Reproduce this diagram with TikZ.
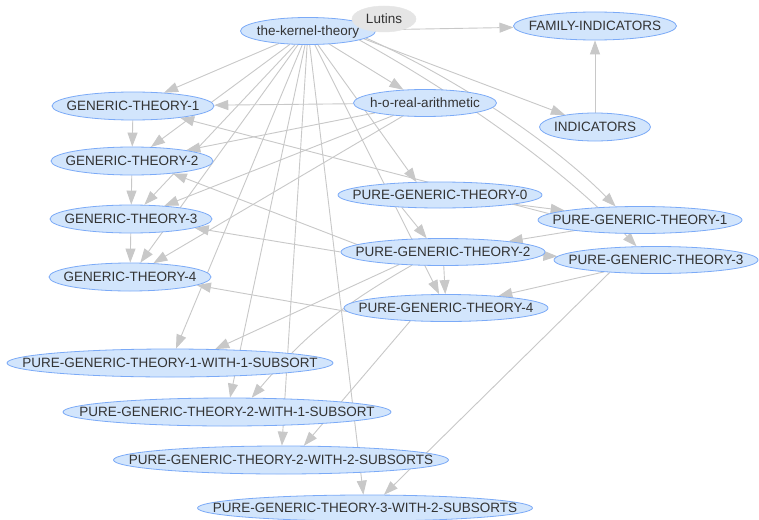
\documentclass[tikz,border=0pt]{standalone}
\usepackage{fontspec}
\setmainfont{Liberation Sans}
\usetikzlibrary{shapes.geometric,arrows.meta}
\definecolor{ndfill}{HTML}{D2E5FC}
\definecolor{ndborder}{HTML}{7BAAF7}
\definecolor{edgegray}{HTML}{C8C8C8}
\definecolor{lutfill}{HTML}{E5E5E5}
\definecolor{txtgray}{HTML}{333333}
\pgfdeclarelayer{background}
\pgfsetlayers{background,main}
\tikzset{
  nd/.style={ellipse, draw=ndborder, fill=ndfill, line width=0.8pt, inner sep=0pt},
  lut/.style={ellipse, fill=lutfill, draw=lutfill, inner sep=0pt},
  edge/.style={draw=edgegray, line width=0.9pt, -{Triangle[length=14pt,width=10pt]}},
  every label/.style={text=txtgray, text height=9.7pt, text depth=0pt, inner sep=0pt}
}
\begin{document}
\begin{tikzpicture}[x=1pt,y=-1pt,font=\fontsize{13.5pt}{16pt}\selectfont]
\useasboundingbox (0,0) rectangle (759,519);
% nodes
\node[nd, minimum width=135pt, minimum height=27pt, label=center:{the-kernel-theory}] (kernel) at (308,31) {};
\node[lut, minimum width=64pt, minimum height=26pt, label=center:{Lutins}] (lutins) at (384,19) {};
\node[nd, minimum width=163pt, minimum height=28pt, label=center:{FAMILY-INDICATORS}] (fam) at (595,26) {};
\node[nd, minimum width=143pt, minimum height=27pt, label=center:{h-o-real-arithmetic}] (ho) at (425,103) {};
\node[nd, minimum width=111pt, minimum height=28pt, label=center:{INDICATORS}] (ind) at (595,127) {};
\node[nd, minimum width=162pt, minimum height=28pt, label=center:{GENERIC-THEORY-1}] (gt1) at (133,106) {};
\node[nd, minimum width=162pt, minimum height=28pt, label=center:{GENERIC-THEORY-2}] (gt2) at (132,161) {};
\node[nd, minimum width=162pt, minimum height=28pt, label=center:{GENERIC-THEORY-3}] (gt3) at (131,219) {};
\node[nd, minimum width=162pt, minimum height=28pt, label=center:{GENERIC-THEORY-4}] (gt4) at (130,277) {};
\node[nd, minimum width=204pt, minimum height=26pt, label=center:{PURE-GENERIC-THEORY-0}] (pgt0) at (440,195) {};
\node[nd, minimum width=204pt, minimum height=27pt, label=center:{PURE-GENERIC-THEORY-1}] (pgt1) at (640,220) {};
\node[nd, minimum width=204pt, minimum height=27pt, label=center:{PURE-GENERIC-THEORY-2}] (pgt2) at (443,252) {};
\node[nd, minimum width=204pt, minimum height=27pt, label=center:{PURE-GENERIC-THEORY-3}] (pgt3) at (656,260) {};
\node[nd, minimum width=204pt, minimum height=27pt, label=center:{PURE-GENERIC-THEORY-4}] (pgt4) at (446,308) {};
\node[nd, minimum width=326pt, minimum height=28pt, label=center:{PURE-GENERIC-THEORY-1-WITH-1-SUBSORT}] (p1w1) at (170,363) {};
\node[nd, minimum width=328pt, minimum height=28pt, label=center:{PURE-GENERIC-THEORY-2-WITH-1-SUBSORT}] (p2w1) at (227,412) {};
\node[nd, minimum width=335pt, minimum height=28pt, label=center:{PURE-GENERIC-THEORY-2-WITH-2-SUBSORTS}] (p2w2) at (281,460) {};
\node[nd, minimum width=335pt, minimum height=26pt, label=center:{PURE-GENERIC-THEORY-3-WITH-2-SUBSORTS}] (p3w2) at (365,508) {};
% edges
\begin{pgfonlayer}{background}
\fill[white] (0,0) rectangle (759,519);
\draw[edge] (kernel) -- (gt1);
\draw[edge] (kernel) -- (gt2);
\draw[edge] (kernel) -- (gt3);
\draw[edge] (kernel) -- (gt4);
\draw[edge] (kernel) -- (ho);
\draw[edge] (kernel) -- (fam);
\draw[edge] (kernel.352) -- (ind.158);
\draw[edge] (kernel.353) .. controls (450,75) and (550,140) .. (pgt1.151);
\draw[edge] (kernel.350) .. controls (450,90) and (560,165) .. (pgt3.145);
\draw[edge] (kernel) -- (pgt0.151);
\draw[edge] (kernel) -- (pgt4);
\draw[edge] (kernel) -- (p1w1);
\draw[edge] (kernel) -- (p2w1);
\draw[edge] (kernel) -- (p2w2);
\draw[edge] (kernel) -- (p3w2);
\draw[edge] (ho) -- (gt1);
\draw[edge] (ho) -- (gt2);
\draw[edge] (ho) -- (gt3);
\draw[edge] (ho) -- (gt4);
\draw[edge] (ind) -- (fam);
\draw[edge] (gt1) -- (gt2);
\draw[edge] (gt2) -- (gt3);
\draw[edge] (gt3) -- (gt4);
\draw[edge] (pgt0) -- (pgt1);
\draw[edge] (pgt0.198) -- (pgt2.140);
\draw[edge] (pgt1.176) -- (gt1.346);
\draw[edge] (pgt1) -- (pgt2);
\draw[edge] (pgt2.175) -- (gt2.343);
\draw[edge] (pgt2.180) -- (gt3.352);
\draw[edge] (pgt2) -- (pgt3);
\draw[edge] (pgt2) -- (pgt4);
\draw[edge] (pgt2.196) -- (p1w1.17);
\draw[edge] (pgt2.203) to[bend right=10] (p2w1.30);
\draw[edge] (pgt3) -- (pgt4);
\draw[edge] (pgt3.195) -- (p3w2.35);
\draw[edge] (pgt4.182) -- (gt4.353);
\draw[edge] (pgt4.200) -- (p2w2.32);
\end{pgfonlayer}
\end{tikzpicture}
\end{document}
